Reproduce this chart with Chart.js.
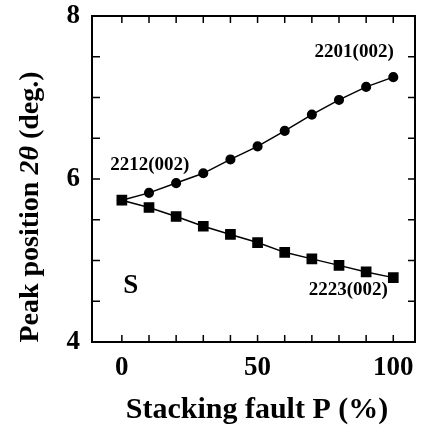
<!DOCTYPE html>
<html lang="en">
<head>
<meta charset="UTF-8">
<title>Peak position vs stacking fault</title>
<script src="https://cdn.jsdelivr.net/npm/chart.js"></script>
<style>
  body { margin: 0; background: #fff; }
  #wrap { width: 425px; height: 433px; }
</style>
</head>
<body>
<div id="wrap"><canvas id="myChart"></canvas></div>
<script>
// data
const faultP = [0, 10, 20, 30, 40, 50, 60, 70, 80, 90, 100]
const peak2201 = [5.74, 5.83, 5.95, 6.07, 6.24, 6.40, 6.59, 6.79, 6.97, 7.13, 7.25]
const peak2223 = [5.74, 5.65, 5.54, 5.42, 5.32, 5.22, 5.10, 5.02, 4.94, 4.86, 4.79]

const xTicks = [0, 10, 20, 30, 40, 50, 60, 70, 80, 90, 100]
const xLabels = [0, 50, 100]
const yTicks = [4, 4.5, 5, 5.5, 6, 6.5, 7, 7.5, 8]
const yLabels = [4, 6, 8]

// text annotations placed in data coordinates
const notes = [
    { text: '2201(002)', x: 85.6, y: 7.56, size: 19 },
    { text: '2212(002)', x: 10.3, y: 6.17, size: 19 },
    { text: '2223(002)', x: 83.4, y: 4.64, size: 19 },
    { text: 'S', x: 3.3, y: 4.69, size: 27 }
]

const serif = '"Liberation Serif", "Times New Roman", serif'

const framePlugin = {
    id: 'frame',
    afterDraw(chart) {
        const ctx = chart.ctx
        const a = chart.chartArea
        const xs = chart.scales.x
        const ys = chart.scales.y
        ctx.save()
        ctx.strokeStyle = '#000'
        ctx.lineWidth = 2
        ctx.strokeRect(a.left, a.top, a.right - a.left, a.bottom - a.top)

        // inward ticks on all four sides
        ctx.lineWidth = 1.5
        ctx.beginPath()
        xTicks.forEach(v => {
            const px = xs.getPixelForValue(v)
            ctx.moveTo(px, a.bottom); ctx.lineTo(px, a.bottom - 7)
            ctx.moveTo(px, a.top); ctx.lineTo(px, a.top + 7)
        })
        yTicks.forEach(v => {
            const py = ys.getPixelForValue(v)
            ctx.moveTo(a.left, py); ctx.lineTo(a.left + 8, py)
            ctx.moveTo(a.right, py); ctx.lineTo(a.right - 7, py)
        })
        ctx.stroke()

        // annotations
        ctx.fillStyle = '#000'
        ctx.textAlign = 'center'
        ctx.textBaseline = 'middle'
        notes.forEach(n => {
            ctx.font = 'bold ' + n.size + 'px ' + serif
            ctx.fillText(n.text, xs.getPixelForValue(n.x), ys.getPixelForValue(n.y))
        })

        // x title
        ctx.font = 'bold 30px ' + serif
        ctx.fillText('Stacking fault P (%)', 257, 410)

        // y title with italic 2θ
        const parts = [
            { t: 'Peak position ', f: 'bold 28px ' + serif },
            { t: '2\u03b8', f: 'italic bold 28px ' + serif },
            { t: ' (deg.)', f: 'bold 28px ' + serif }
        ]
        let total = 0
        parts.forEach(p => { ctx.font = p.f; p.w = ctx.measureText(p.t).width; total += p.w })
        ctx.translate(31, 207)
        ctx.rotate(-Math.PI / 2)
        ctx.textAlign = 'left'
        let cx = -total / 2
        parts.forEach(p => { ctx.font = p.f; ctx.fillText(p.t, cx, 0); cx += p.w })
        ctx.restore()
    }
}

const data = {
    labels: faultP,
    datasets: [
        {
            label: '2223(002)',
            data: faultP.map((p, i) => ({ x: p, y: peak2223[i] })),
            borderColor: '#000',
            backgroundColor: '#000',
            borderWidth: 1.5,
            pointStyle: 'rect',
            pointRadius: 6.5,
            order: 0
        },
        {
            label: '2201(002)',
            data: faultP.map((p, i) => ({ x: p, y: peak2201[i] })),
            borderColor: '#000',
            backgroundColor: '#000',
            borderWidth: 1.5,
            pointStyle: 'circle',
            pointRadius: 4.3,
            order: 1
        }
    ]
}

const config = {
    type: 'line',
    data,
    options: {
        responsive: true,
        maintainAspectRatio: false,
        animation: false,
        layout: { padding: { top: 16, right: 10, left: 0, bottom: 0 } },
        plugins: {
            legend: { display: false },
            tooltip: { enabled: false }
        },
        scales: {
            x: {
                type: 'linear',
                min: -11,
                max: 108,
                grid: { display: false, drawTicks: false },
                border: { display: false },
                afterBuildTicks: s => { s.ticks = xTicks.map(v => ({ value: v })) },
                afterFit: s => { s.height = 91; s.paddingLeft = 0; s.paddingRight = 0 },
                ticks: {
                    autoSkip: false,
                    maxRotation: 0,
                    padding: 10,
                    color: '#000',
                    font: { family: serif, size: 27, weight: 'bold' },
                    callback: v => xLabels.includes(v) ? String(v) : ''
                }
            },
            y: {
                min: 4,
                max: 8,
                grid: { display: false, drawTicks: false },
                border: { display: false },
                afterBuildTicks: s => { s.ticks = yTicks.map(v => ({ value: v })) },
                afterFit: s => { s.width = 92; s.paddingTop = 0; s.paddingBottom = 0 },
                ticks: {
                    autoSkip: false,
                    padding: 12,
                    color: '#000',
                    font: { family: serif, size: 27, weight: 'bold' },
                    callback: v => yLabels.includes(v) ? String(v) : ''
                }
            }
        }
    },
    plugins: [framePlugin]
}

var myChart = new Chart(document.getElementById('myChart'), config)
</script>
</body>
</html>
